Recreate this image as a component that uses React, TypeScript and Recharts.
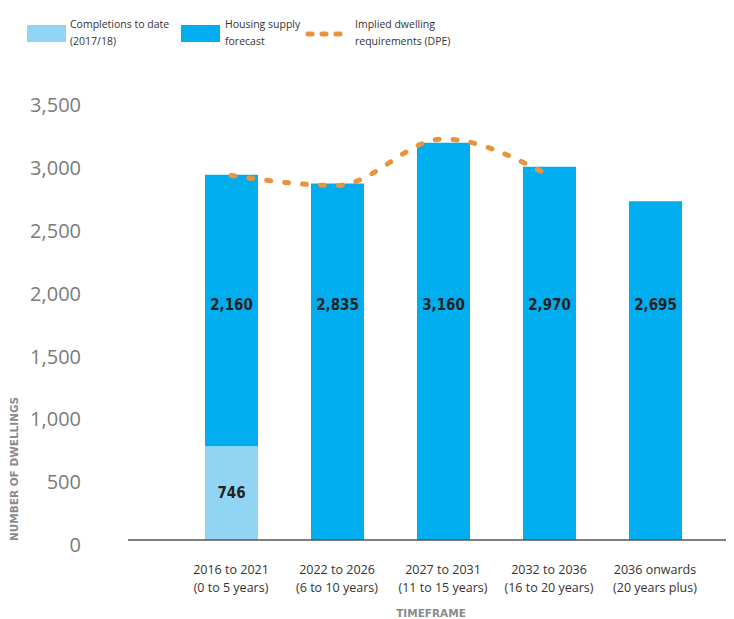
import { ComposedChart, Bar, Line, XAxis, YAxis, LabelList } from 'recharts';

// Dados
const categories = ['2016 to 2021', '2022 to 2026', '2027 to 2031', '2032 to 2036', '2036 onwards'];
const periods = ['(0 to 5 years)', '(6 to 10 years)', '(11 to 15 years)', '(16 to 20 years)', '(20 years plus)'];
const completions = [746, null, null, null, null];
const forecast = [2160, 2835, 3160, 2970, 2695];
const requirements = [2900, 2820, 3190, 2900, null];
const yTicks = [0, 500, 1000, 1500, 2000, 2500, 3000, 3500];

const data = categories.map((name, i) => ({
  name,
  period: periods[i],
  completions: completions[i],
  forecast: forecast[i],
  requirements: requirements[i],
}));

const LIGHT = '#92d4f3';
const BLUE = '#00adef';
const ORANGE = '#e8943f';
const LABEL_LEVEL = 1870; // altura (em unidades) onde ficam os rótulos das barras
const FONT = '"Open Sans", sans-serif';

const XTick = (props: any) => {
  const { x, y, payload, index } = props;
  return (
    <text x={x} y={y} textAnchor="middle" fontFamily={FONT} fontSize={12.5} fill="#333">
      <tspan x={x} dy={26}>{payload.value}</tspan>
      <tspan x={x} dy={18}>{periods[index]}</tspan>
    </text>
  );
};

const forecastLabel = (props: any) => {
  const { x, y, width, height, value, index } = props;
  const i = index ?? forecast.indexOf(value);
  const ppu = height / value;
  const zero = y + height + (completions[i] ?? 0) * ppu;
  return (
    <text
      x={x + width / 2}
      y={zero - LABEL_LEVEL * ppu}
      textAnchor="middle"
      dominantBaseline="central"
      fontFamily='"DejaVu Sans Condensed", sans-serif'
      fontWeight="bold"
      fontSize={15}
      fill="#222"
    >
      {value.toLocaleString('en-US')}
    </text>
  );
};

const completionsLabel = (props: any) => {
  const { x, y, width, height, value } = props;
  if (!value) return null;
  return (
    <text
      x={x + width / 2}
      y={y + height / 2}
      textAnchor="middle"
      dominantBaseline="central"
      fontFamily='"DejaVu Sans Condensed", sans-serif'
      fontWeight="bold"
      fontSize={15}
      fill="#222"
    >
      {value.toLocaleString('en-US')}
    </text>
  );
};

const legendText = { position: 'absolute' as const, top: 8, fontFamily: FONT, fontSize: 10.5, lineHeight: '17px', color: '#333' };

export default function App() {
  return (
    <div style={{ position: 'relative', width: 726, height: 611 }}>
      <div style={{ position: 'absolute', left: 19, top: 17, width: 39, height: 17, background: LIGHT }} />
      <div style={{ ...legendText, left: 62 }}>Completions to date<br />(2017/18)</div>
      <div style={{ position: 'absolute', left: 173, top: 17, width: 39, height: 17, background: BLUE }} />
      <div style={{ ...legendText, left: 217 }}>Housing supply<br />forecast</div>
      <svg style={{ position: 'absolute', left: 296, top: 20 }} width={40} height={12}>
        <line x1={4} y1={6} x2={38} y2={6} stroke={ORANGE} strokeWidth={5} strokeDasharray="4 10" strokeLinecap="round" />
      </svg>
      <div style={{ ...legendText, left: 347 }}>Implied dwelling<br />requirements (DPE)</div>
      <div
        style={{
          position: 'absolute', left: 0, top: 455, width: 0, height: 0,
          fontFamily: '"DejaVu Sans", sans-serif', fontWeight: 'bold', fontSize: 10.5, color: '#8a8a8a',
          whiteSpace: 'nowrap', transform: 'rotate(-90deg)', transformOrigin: '0 0',
        }}
      >
        <div style={{ position: 'absolute', left: -78, top: 0 }}>NUMBER OF DWELLINGS</div>
      </div>
      <ComposedChart
        width={726}
        height={611}
        data={data}
        margin={{ top: 92, right: 0, left: 0, bottom: 0 }}
        style={{ position: 'absolute', left: 0, top: 0 }}
      >
        <XAxis
          dataKey="name"
          height={79}
          padding={{ left: 50, right: 26 }}
          tickLine={false}
          axisLine={{ stroke: '#555', strokeWidth: 1.5 }}
          tick={<XTick />}
          interval={0}
          label={{ value: 'TIMEFRAME', position: 'insideBottom', offset: 2, fontFamily: '"DejaVu Sans", sans-serif', fontWeight: 'bold', fontSize: 10.5, fill: '#8a8a8a' }}
        />
        <YAxis
          domain={[0, 3500]}
          ticks={yTicks}
          width={120}
          axisLine={false}
          tickLine={false}
          tickSize={0}
          tickMargin={47}
          tickFormatter={(v: number) => v.toLocaleString('en-US')}
          tick={{ fontFamily: FONT, fontSize: 20, fill: '#7b7b7b', dy: 5 }}
        />
        <Bar dataKey="completions" stackId="a" fill={LIGHT} barSize={53} isAnimationActive={false}>
          <LabelList dataKey="completions" content={completionsLabel} />
        </Bar>
        <Bar dataKey="forecast" stackId="a" fill={BLUE} barSize={53} isAnimationActive={false}>
          <LabelList dataKey="forecast" content={forecastLabel} />
        </Bar>
        <Line
          dataKey="requirements"
          type="monotone"
          stroke={ORANGE}
          strokeWidth={5}
          strokeDasharray="4 14"
          strokeLinecap="round"
          dot={false}
          activeDot={false}
          isAnimationActive={false}
        />
      </ComposedChart>
    </div>
  );
}
